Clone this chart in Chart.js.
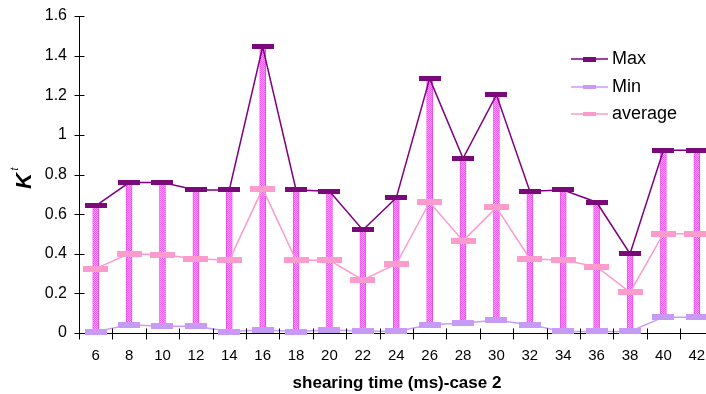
<!DOCTYPE html>
<html><head><meta charset="utf-8">
<script src="https://cdn.jsdelivr.net/npm/chart.js@4/dist/chart.umd.min.js"></script>
<style>
html,body{margin:0;padding:0;overflow:hidden;background:#fff;width:706px;height:394px}
#wrap{width:720px;height:394px;position:relative}
canvas{display:block}
</style>
</head><body>
<div id="wrap"><canvas id="c" width="720" height="394" style="width:720px;height:394px"></canvas></div>
<script>
const categories = ['6','8','10','12','14','16','18','20','22','24','26','28','30','32','34','36','38','40','42'];
const maxValues = [0.642,0.759,0.759,0.722,0.722,1.444,0.722,0.715,0.52,0.682,1.284,0.882,1.202,0.715,0.722,0.66,0.40,0.922,0.922];
const minValues = [0.007,0.042,0.034,0.034,0.007,0.015,0.007,0.015,0.01,0.008,0.042,0.05,0.064,0.042,0.008,0.008,0.008,0.08,0.08];
const averageValues = [0.325,0.40,0.395,0.375,0.367,0.729,0.367,0.367,0.268,0.348,0.66,0.465,0.634,0.375,0.367,0.335,0.205,0.501,0.501];
const yTicks = [0,0.2,0.4,0.6,0.8,1.0,1.2,1.4,1.6];
const seriesLabels = ['Max','Min','average'];
const xTitle = 'shearing time (ms)-case 2';

function rectCanvas(w,h,color){
  const c=document.createElement('canvas'); c.width=w; c.height=h;
  const x=c.getContext('2d'); x.fillStyle=color; x.fillRect(0,0,w,h); return c;
}
function barPattern(){
  const c=document.createElement('canvas'); c.width=2; c.height=2;
  const x=c.getContext('2d');
  x.fillStyle='#ffa6ff'; x.fillRect(0,0,2,2);
  x.fillStyle='#f05cf0'; x.fillRect(0,0,1,1); x.fillRect(1,1,1,1);
  return x.createPattern(c,'repeat');
}
const colors = {max:'#800080', min:'#cc99ff', avg:'#ff99cc'};
const markers = {
  max: rectCanvas(22,5,'#7a0a7a'),
  min: rectCanvas(22,6,'#c79af5'),
  avg: rectCanvas(25,6,'#fc9ccc')
};
const legendMarkers = {
  max: rectCanvas(13,5,'#7a0a7a'),
  min: rectCanvas(13,4,'#c79af5'),
  avg: rectCanvas(13,4,'#fc9ccc')
};

const decor = {
  id:'decor',
  afterDraw(chart){
    const ctx=chart.ctx, xs=chart.scales.x, ys=chart.scales.y;
    ctx.save();
    ctx.strokeStyle='#000'; ctx.lineWidth=1;
    const ax = Math.round(xs.left)+0.5;
    yTicks.forEach(v=>{
      const y=Math.round(ys.getPixelForValue(v))+0.5;
      ctx.beginPath(); ctx.moveTo(ax-5,y); ctx.lineTo(ax+5,y); ctx.stroke();
    });
    const by=Math.round(ys.bottom)+0.5;
    const step = xs.getPixelForValue(1)-xs.getPixelForValue(0);
    for(let i=0;i<=categories.length;i++){
      const x=Math.round(xs.getPixelForValue(i)-step/2)+0.5;
      ctx.beginPath(); ctx.moveTo(x,by-5); ctx.lineTo(x,by+6); ctx.stroke();
    }
    // y title
    ctx.fillStyle='#000';
    ctx.translate(25,181); ctx.rotate(-Math.PI/2);
    ctx.textAlign='center'; ctx.textBaseline='middle';
    ctx.font='bold italic 22px Arial, "Liberation Sans"';
    ctx.fillText('K',0,0);
    ctx.font='italic 10px Arial, "Liberation Sans"';
    ctx.fillText('t',12,-10);
    ctx.setTransform(1,0,0,1,0,0);
    // x title
    ctx.font='bold 17px Arial, "Liberation Sans"';
    ctx.textAlign='center'; ctx.textBaseline='middle';
    ctx.fillText(xTitle,397,383);
    // legend
    const keys=['max','min','avg'];
    const ly=[59,87,114];
    keys.forEach((k,i)=>{
      ctx.strokeStyle=colors[k]; ctx.lineWidth=1.5;
      ctx.beginPath(); ctx.moveTo(571,ly[i]); ctx.lineTo(608,ly[i]); ctx.stroke();
      const m=legendMarkers[k];
      ctx.drawImage(m,589-m.width/2,ly[i]-m.height/2);
      ctx.fillStyle='#000'; ctx.textAlign='left'; ctx.textBaseline='middle';
      ctx.font='18px Arial, "Liberation Sans"';
      ctx.fillText(seriesLabels[i],612,ly[i]);
    });
    ctx.restore();
  }
};

const ctx=document.getElementById('c').getContext('2d');
new Chart(ctx,{
  data:{
    labels:categories,
    datasets:[
      {type:'line',label:seriesLabels[0],data:maxValues,borderColor:colors.max,borderWidth:1.5,
       pointStyle:markers.max,pointRadius:5,tension:0,order:1,clip:false},
      {type:'line',label:seriesLabels[1],data:minValues,borderColor:colors.min,borderWidth:1.5,
       pointStyle:markers.min,pointRadius:5,tension:0,order:3,clip:false},
      {type:'line',label:seriesLabels[2],data:averageValues,borderColor:colors.avg,borderWidth:1.5,
       pointStyle:markers.avg,pointRadius:5,tension:0,order:2,clip:false},
      {type:'bar',label:'range',data:categories.map((c,i)=>[minValues[i],maxValues[i]]),
       backgroundColor:barPattern(),borderColor:'#e84ee8',borderWidth:{left:1,right:1,top:0,bottom:0},
       borderSkipped:false,barThickness:6,order:10,clip:false}
    ]
  },
  options:{
    responsive:false,animation:false,events:[],
    layout:{padding:{left:0,right:4.5,top:16,bottom:0}},
    plugins:{legend:{display:false},tooltip:{enabled:false}},
    scales:{
      x:{type:'category',offset:true,
        grid:{display:false,drawTicks:false,offset:true},
        border:{display:true,color:'#000',width:1},
        ticks:{color:'#000',font:{family:'Arial, "Liberation Sans"',size:15},padding:14,maxRotation:0,autoSkip:false},
        afterFit(s){s.height=61;s.paddingLeft=0;s.paddingRight=0;}
      },
      y:{min:0,max:1.6,
        grid:{display:false,drawTicks:false},
        border:{display:true,color:'#000',width:1},
        afterBuildTicks(s){s.ticks=yTicks.map(v=>({value:v}));},
        ticks:{color:'#000',font:{family:'Arial, "Liberation Sans"',size:16},padding:12,
          callback:v=>String(Number(v.toFixed(1)))},
        afterFit(s){s.width=79;s.paddingTop=0;s.paddingBottom=0;}
      }
    }
  },
  plugins:[decor]
});
</script>
</body></html>
